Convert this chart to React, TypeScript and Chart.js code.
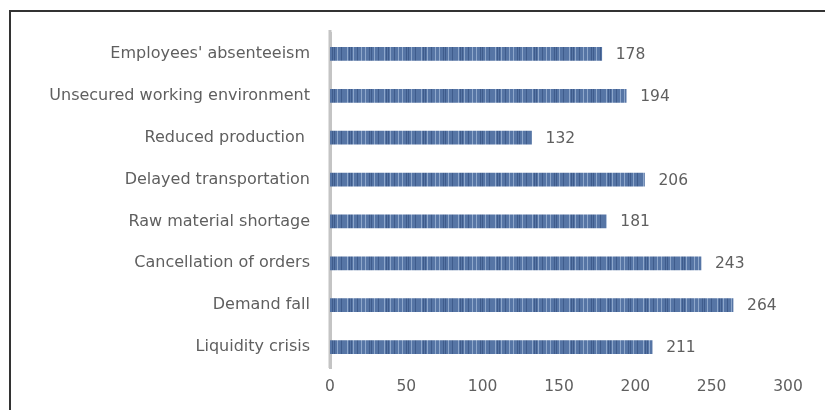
import React, { useEffect, useRef } from "react";
import { Chart, registerables } from "chart.js";

Chart.register(...registerables);

const categories = [
  "Employees' absenteeism",
  "Unsecured working environment",
  "Reduced production ",
  "Delayed transportation",
  "Raw material shortage",
  "Cancellation of orders",
  "Demand fall",
  "Liquidity crisis",
];
const values = [178, 194, 132, 206, 181, 243, 264, 211];
const xTicks = [0, 50, 100, 150, 200, 250, 300];

const FONT = "'DejaVu Sans', sans-serif";
const TEXT = "#5f5f5f";

function makePattern(): CanvasPattern | string {
  const w = 37;
  const c = document.createElement("canvas");
  c.width = w;
  c.height = 4;
  const g = c.getContext("2d");
  if (!g) return "#5574a4";
  g.fillStyle = "#5675a5";
  g.fillRect(0, 0, w, 4);
  g.fillStyle = "#8ea7cb";
  [3, 9, 17, 21, 30].forEach((x) => g.fillRect(x, 0, 1, 4));
  g.fillStyle = "#3f5c8c";
  [5, 7, 13, 25, 27, 34].forEach((x) => g.fillRect(x, 0, 1, 4));
  const p = g.createPattern(c, "repeat");
  return p || "#5574a4";
}

const valueLabels = {
  id: "valueLabels",
  afterDatasetsDraw(chart: any) {
    const ctx = chart.ctx;
    const meta = chart.getDatasetMeta(0);
    ctx.save();
    ctx.font = `15.5px ${FONT}`;
    ctx.fillStyle = TEXT;
    ctx.textAlign = "left";
    ctx.textBaseline = "middle";
    meta.data.forEach((bar: any, i: number) => {
      ctx.fillText(String(values[i]), bar.x + 14, bar.y + 1);
    });
    ctx.restore();
  },
};

const axisLineExtend = {
  id: "axisLineExtend",
  beforeDatasetsDraw(chart: any) {
    const { ctx, chartArea } = chart;
    ctx.save();
    ctx.strokeStyle = "#c4c4c4";
    ctx.lineWidth = 3;
    ctx.beginPath();
    ctx.moveTo(chartArea.left, chartArea.top - 3);
    ctx.lineTo(chartArea.left, chartArea.bottom);
    ctx.stroke();
    ctx.restore();
  },
};

export default function App() {
  const ref = useRef<HTMLCanvasElement>(null);
  useEffect(() => {
    if (!ref.current) return;
    const chart = new Chart(ref.current, {
      type: "bar",
      data: {
        labels: categories,
        datasets: [
          {
            data: values,
            backgroundColor: makePattern() as any,
            barThickness: 13,
          },
        ],
      },
      options: {
        indexAxis: "y",
        animation: false,
        responsive: false,
        maintainAspectRatio: false,
        layout: { padding: { top: 21, right: 29, bottom: 0, left: 0 } },
        plugins: {
          legend: { display: false },
          tooltip: { enabled: false },
        },
        scales: {
          x: {
            min: 0,
            max: 300,
            afterBuildTicks: (scale: any) => {
              scale.ticks = xTicks.map((v) => ({ value: v }));
            },
            afterFit: (scale: any) => {
              scale.height = 40;
            },
            grid: { display: false, drawTicks: false },
            border: { display: false },
            ticks: {
              padding: 10,
              color: TEXT,
              font: { family: FONT, size: 15.5 },
            },
          },
          y: {
            afterFit: (scale: any) => {
              scale.width = 319;
              scale.paddingTop = 0;
              scale.paddingBottom = 0;
            },
            grid: { display: true, drawOnChartArea: false, drawTicks: false },
            border: { display: true, color: "#c4c4c4", width: 3 },
            ticks: {
              padding: 20,
              color: TEXT,
              font: { family: FONT, size: 16 },
            },
          },
        },
      },
      plugins: [valueLabels, axisLineExtend],
    });
    return () => chart.destroy();
  }, []);

  return (
    <div>
      <div
        style={{
          position: "fixed",
          left: 9,
          top: 10,
          width: 840,
          height: 420,
          borderTop: "2px solid #333",
          borderLeft: "2px solid #333",
          boxSizing: "border-box",
          overflow: "hidden",
        }}
      >
        <canvas ref={ref} width={806} height={396} style={{ display: "block" }} />
      </div>
    </div>
  );
}
